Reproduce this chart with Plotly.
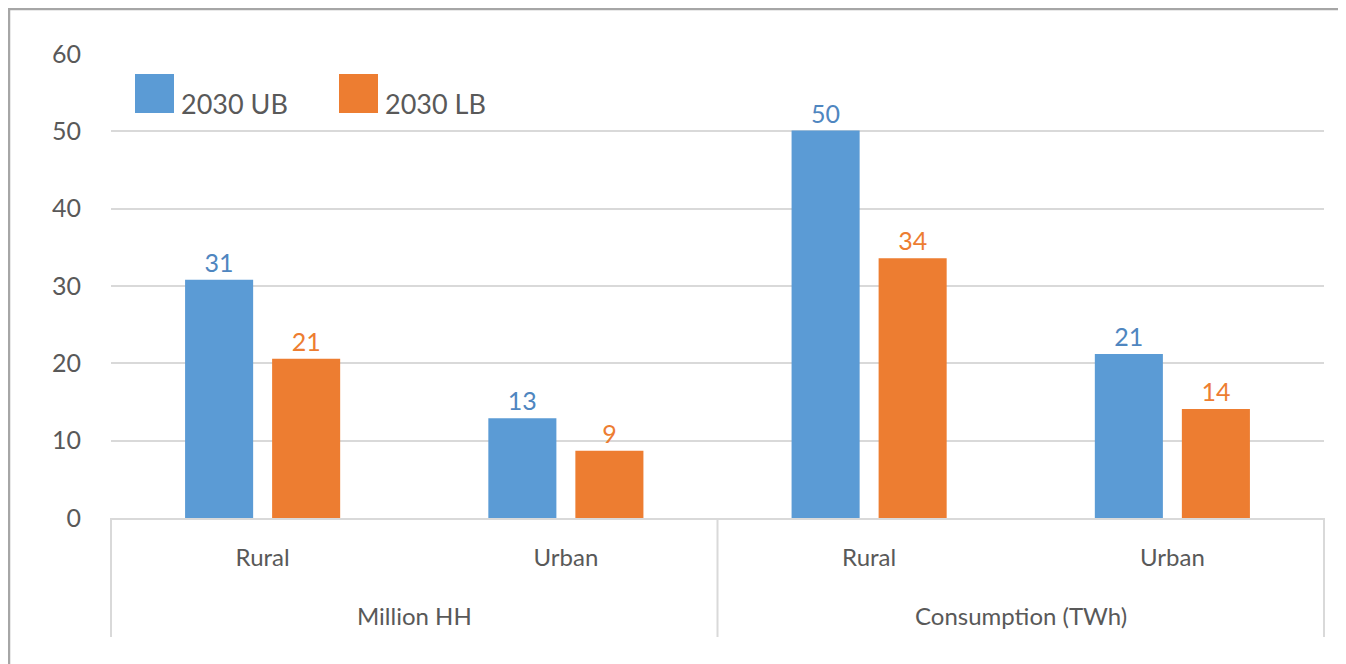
import plotly.graph_objects as go

groups = ["Million HH", "Million HH", "Consumption (TWh)", "Consumption (TWh)"]
areas = ["Rural", "Urban", "Rural", "Urban"]
series_names = ["2030 UB", "2030 LB"]
ub_values = [30.8, 12.9, 50.1, 21.2]
lb_values = [20.6, 8.7, 33.6, 14.1]
y_ticks = [0, 10, 20, 30, 40, 50, 60]

bar_colors = ["#5B9BD5", "#ED7D31"]
label_colors = ["#4F86C0", "#ED7D31"]
NUMFONT = "Lato"
CATFONT = "Lato"
TXT = "#595959"

# figure geometry (page is offset by 8px body margin)
W, H = 1338, 656
L, R, T, B = 103, 1316, 46, 510
PW, PH = R - L, B - T

def px(xf):  # figure px -> paper x
    return (xf - L) / PW

def py(yf):  # figure px -> paper y
    return (B - yf) / PH

keys = [f"{g}|{a}" for g, a in zip(groups, areas)]

fig = go.Figure()
for name, vals, c, lc in zip(series_names, [ub_values, lb_values], bar_colors, label_colors):
    fig.add_trace(go.Bar(
        x=keys, y=vals, name=name,
        marker=dict(color=c, line=dict(width=0)),
        text=[f"{round(v):d}" for v in vals],
        textposition="outside", cliponaxis=False,
        textfont=dict(family=NUMFONT, size=25, color=lc),
        showlegend=False,
    ))

# group labels and dividers
uniq = []
for g in groups:
    if g not in uniq:
        uniq.append(g)
for g in uniq:
    idx = [i for i, gg in enumerate(groups) if gg == g]
    fig.add_annotation(xref="x", yref="paper", x=sum(idx) / len(idx), y=py(607),
                       text=g, showarrow=False, xanchor="center", yanchor="middle",
                       font=dict(family=CATFONT, size=24, color=TXT))
bounds = [0.0]
acc = 0
for g in uniq:
    acc += groups.count(g)
    bounds.append(acc / len(groups))
for b in bounds:
    fig.add_shape(type="line", xref="paper", yref="paper", x0=b, x1=b,
                  y0=0, y1=py(629), line=dict(color="#D9D9D9", width=2))

# manual legend (large square swatches)
leg_x = [127, 331]
for i, (name, c) in enumerate(zip(series_names, bar_colors)):
    fig.add_shape(type="rect", xref="paper", yref="paper",
                  x0=px(leg_x[i]), x1=px(leg_x[i] + 39),
                  y0=py(105), y1=py(66),
                  fillcolor=c, line=dict(width=0))
    fig.add_annotation(xref="paper", yref="paper",
                       x=px(leg_x[i] + 44), y=py(95),
                       text=name, showarrow=False, xanchor="left", yanchor="middle",
                       font=dict(family=NUMFONT, size=27, color=TXT))

# outer chart frame
fig.add_shape(type="rect", xref="paper", yref="paper",
              x0=px(1), x1=px(1334.5), y0=py(700), y1=py(1),
              line=dict(color="#A6A6A6", width=2.5), fillcolor="rgba(0,0,0,0)", layer="below")

fig.update_layout(
    width=W, height=H,
    margin=dict(l=L, r=W - R, t=T, b=H - B, autoexpand=False),
    paper_bgcolor="white", plot_bgcolor="white",
    barmode="group", bargap=0.426, bargroupgap=0.218,
    font=dict(family=NUMFONT, size=25, color=TXT),
    xaxis=dict(type="category", tickvals=keys, ticktext=areas,
               showline=True, linecolor="#D9D9D9", linewidth=2,
               ticks="", ticklabelstandoff=17,
               tickfont=dict(family=CATFONT, size=24, color=TXT), showgrid=False),
    yaxis=dict(range=[0, 60], tickvals=y_ticks, showgrid=True, gridcolor="#D9D9D9", gridwidth=2,
               zeroline=False, showline=False, ticklabelstandoff=29,
               tickfont=dict(family=NUMFONT, size=25, color=TXT)),
)

fig.write_html("out.html")
